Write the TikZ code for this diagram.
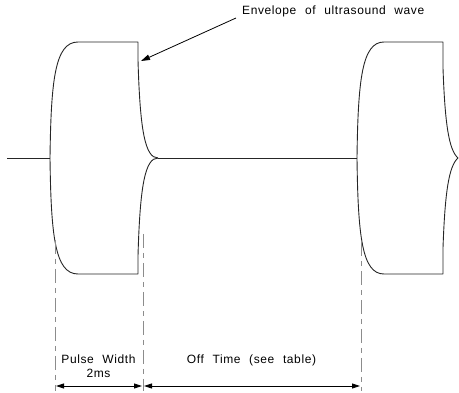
\documentclass[tikz,border=0pt]{standalone}
\usepackage{fontspec}
\setmainfont{Liberation Sans}[LetterSpace=5,WordSpace=2.2]
\usetikzlibrary{arrows.meta}
\begin{document}
\begin{tikzpicture}[x=1pt,y=-1pt,
  wave/.style={line width=0.9pt,draw=black!85,line join=round},
  guide/.style={line width=0.8pt,draw=black!45,dash pattern=on 14pt off 5pt on 5pt off 5pt},
  dimarrow/.style={line width=0.9pt,{Triangle[length=8pt,width=5pt]}-{Triangle[length=8pt,width=5pt]}},
  pointer/.style={line width=0.8pt,-{Triangle[length=9pt,width=5.5pt]}},
  lbl/.style={inner sep=0pt,font=\fontsize{12}{14}\selectfont,anchor=base}]
\useasboundingbox (0,0) rectangle (459,393);
% coordinates
\coordinate (L0) at (7,158);
\coordinate (A) at (50,158);
\coordinate (B) at (158,158);
\coordinate (C) at (357,158);
\coordinate (D) at (458,158);
% baseline
\draw[wave] (L0) -- (A);
\draw[wave] (B) -- (C);
% pulse 1
\draw[wave] (A) .. controls (51,80) and (55,42) .. (78,42) -- (138,42) -- (138,60)
  .. controls (140,130) and (145,158) .. (B);
\draw[wave] (A) .. controls (51,236) and (55,274) .. (78,274) -- (138,274) -- (138,256)
  .. controls (140,186) and (145,158) .. (B);
% pulse 2
\draw[wave] (C) .. controls (358,80) and (362,42) .. (384,42) -- (443,42) -- (443,68)
  .. controls (445,125) and (449,150) .. (D);
\draw[wave] (C) .. controls (358,236) and (362,274) .. (384,274) -- (443,274) -- (443,248)
  .. controls (445,191) and (449,166) .. (D);
% guides
\coordinate (g1t) at (55,240); \coordinate (g1b) at (55,391);
\coordinate (g2t) at (143,234); \coordinate (g2b) at (143,391);
\coordinate (g3t) at (361,242); \coordinate (g3b) at (361,391);
\draw[guide] (g1t) -- (g1b);
\draw[guide] (g2t) -- (g2b);
\draw[guide] (g3t) -- (g3b);
% dimension arrows
\coordinate (a1) at (56,386); \coordinate (a2) at (142,386);
\coordinate (a3) at (144,386); \coordinate (a4) at (360,386);
\draw[dimarrow] (a1) -- (a2);
\draw[dimarrow] (a3) -- (a4);
% labels
\node[lbl] (pw) at (98.5,364) {Pulse Width};
\node[lbl] (ms) at (98.5,378) {2ms};
\node[lbl] (off) at (251.5,364) {Off Time (see table)};
\node[lbl,anchor=base west] (env) at (242,15) {Envelope of ultrasound wave};
% pointer
\coordinate (p0) at (236,18);
\coordinate (p1) at (141,61);
\draw[pointer] (p0) -- (p1);
\end{tikzpicture}
\end{document}
